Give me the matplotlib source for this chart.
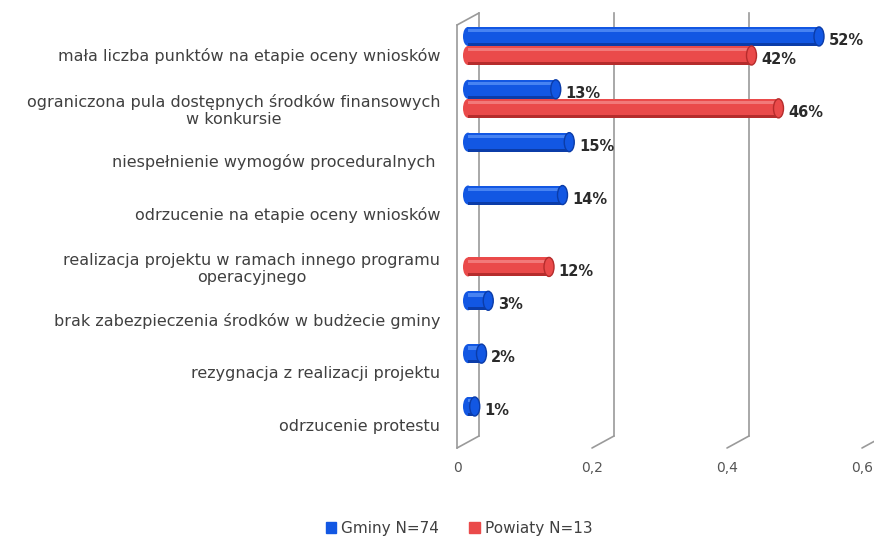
import numpy as np
import matplotlib.pyplot as plt
from matplotlib.patches import Ellipse, Patch, ConnectionPatch
from matplotlib.transforms import ScaledTranslation

# -------------------------
# Daten
# -------------------------

categories = [
    "mała liczba punktów na etapie oceny wniosków",
    "ograniczona pula dostępnych środków finansowych\nw konkursie",
    "niespełnienie wymogów proceduralnych ",
    "odrzucenie na etapie oceny wniosków",
    "realizacja projektu w ramach innego programu\noperacyjnego",
    "brak zabezpieczenia środków w budżecie gminy",
    "rezygnacja z realizacji projektu",
    "odrzucenie protestu",
]

gminy = [0.52, 0.13, 0.15, 0.14, np.nan, 0.03, 0.02, 0.01]
powiaty = [0.42, 0.46, np.nan, np.nan, 0.12, np.nan, np.nan, np.nan]

xticks = [0, 0.2, 0.4, 0.6]
xtick_labels = ["0", "0,2", "0,4", "0,6"]
series_labels = ["Gminy N=74", "Powiaty N=13"]

# -------------------------
# Stil
# -------------------------

BLUE = ("#1257e3", "#5a92f8", "#0b3ca8")   # main, light, dark
RED = ("#ea4a4a", "#f68a8a", "#b52c2c")
TXT = "#404040"
GRID = "#9a9a9a"

fig = plt.figure(figsize=(8.74, 5.37), dpi=100, facecolor="white")
ax = fig.add_axes([457 / 874, 89 / 537, 405 / 874, 423 / 537])
ax.set_xlim(0, 0.6)
ax.set_ylim(7.435, -0.567)
for s in ax.spines.values():
    s.set_visible(False)


def px(n):
    return n / 100.0


# pseudo-3D: Balken in halber Tiefe, Rückwand ganz hinten
bar_tr = ax.transData + ScaledTranslation(px(11), px(9), fig.dpi_scale_trans)
back_tr = ax.transData + ScaledTranslation(px(22), px(12), fig.dpi_scale_trans)

y_bot, y_top = ax.get_ylim()

# Rückwand-Linien
for x in xticks:
    ax.plot([x, x], [y_bot, y_top], color=GRID, lw=1.2, transform=back_tr,
            clip_on=False, zorder=1)
    con = ConnectionPatch((x, y_bot), (x, y_bot), coordsA=ax.transData,
                          coordsB=back_tr, color=GRID, lw=1.2, zorder=1)
    fig.add_artist(con)

# linke Seitenwand
ax.plot([0, 0], [y_bot, y_top], color=GRID, lw=1.2, clip_on=False, zorder=1)
fig.add_artist(ConnectionPatch((0, y_top), (0, y_top), coordsA=ax.transData,
                               coordsB=back_tr, color=GRID, lw=1.2, zorder=1))

# -------------------------
# Zylinder-Balken
# -------------------------

h = 0.36
cap_w = 10 / 675


def cylinder(y, v, cols):
    main, light, dark = cols
    ax.barh(y, v, height=h, color=dark, transform=bar_tr, zorder=3)
    ax.barh(y - 0.08 * h, v, height=0.84 * h, color=main, transform=bar_tr, zorder=3)
    ax.barh(y - 0.3 * h, v, height=0.18 * h, color=light, transform=bar_tr,
            zorder=3, alpha=0.75)
    ax.add_patch(Ellipse((0, y), cap_w, h, facecolor=main, edgecolor="none",
                         transform=bar_tr, zorder=2.9))
    ax.add_patch(Ellipse((v, y), cap_w, h, facecolor=main, edgecolor=dark,
                         lw=1.0, transform=bar_tr, zorder=4))
    ax.annotate(f"{round(v * 100)}%", (v, y), xycoords=bar_tr,
                xytext=(7, -3), textcoords="offset points", ha="left",
                va="center", fontsize=10.5, fontweight="bold", color="#2a2a2a")


for i, (g, p) in enumerate(zip(gminy, powiaty)):
    if not np.isnan(g):
        cylinder(i - 0.18, g, BLUE)
    if not np.isnan(p):
        cylinder(i + 0.18, p, RED)

# -------------------------
# Achsen
# -------------------------

ax.set_yticks(range(len(categories)))
ax.set_yticklabels(categories, fontsize=11.5, color=TXT)
for t in ax.get_yticklabels():
    t.set_multialignment("center")
ax.tick_params(axis="y", length=0, pad=12)

ax.set_xticks(xticks)
ax.set_xticklabels(xtick_labels, fontsize=10, color="#555555")
ax.tick_params(axis="x", length=0, pad=9)

# Legende
handles = [Patch(color=BLUE[0]), Patch(color=RED[0])]
fig.legend(handles, series_labels, loc="center",
           bbox_to_anchor=(459 / 874, 1 - 528 / 537), ncol=2, frameon=False,
           handlelength=0.7, handleheight=0.7, handletextpad=0.3,
           columnspacing=2.0, fontsize=11, labelcolor=TXT)

plt.savefig("out.png", dpi=100)
